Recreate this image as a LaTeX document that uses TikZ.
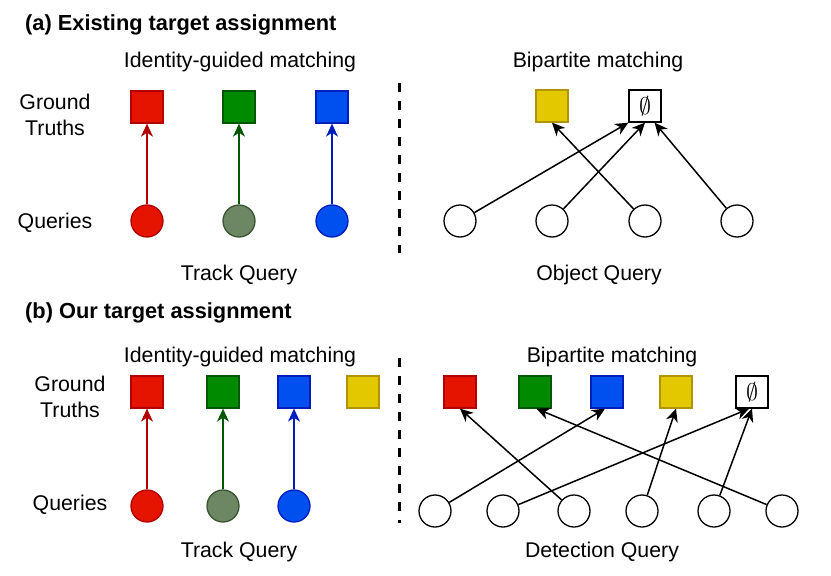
\documentclass[tikz,border=0pt]{standalone}
\usepackage{fontspec}
\setmainfont{Liberation Sans}
\usetikzlibrary{arrows.meta}
\definecolor{rfill}{HTML}{E51400}\definecolor{rline}{HTML}{B20000}
\definecolor{gfill}{HTML}{008A00}\definecolor{gline}{HTML}{005700}
\definecolor{bfill}{HTML}{0050EF}\definecolor{bline}{HTML}{001DBC}
\definecolor{yfill}{HTML}{E3C800}\definecolor{yline}{HTML}{B09500}
\definecolor{ofill}{HTML}{6D8764}\definecolor{oline}{HTML}{3A5431}
\newcommand{\emptymark}{\scalebox{2.4}{$\emptyset$}}
\tikzset{
  txt/.style={font=\fontsize{21.3}{26}\selectfont, inner sep=0pt},
  ttl/.style={font=\fontsize{21.8}{26}\selectfont\bfseries, inner sep=0pt, anchor=base west},
  sq/.style={draw, rectangle, minimum size=32pt, inner sep=0pt, line width=1.3pt},
  cq/.style={draw, circle, minimum size=32pt, inner sep=0pt, line width=1.3pt},
  arr/.style={line width=1.5pt, -{Stealth[length=13pt,width=12pt,inset=4pt]}},
  sep/.style={line width=3pt, dash pattern=on 9pt off 9pt},
}
\begin{document}
\begin{tikzpicture}[x=1pt,y=-1pt]
\useasboundingbox (0,0) rectangle (831,576);
% ---------- (a)
\node[ttl] (ta) at (25,30) {(a) Existing target assignment};
\node[txt, anchor=base] (ia) at (240,67) {Identity-guided matching};
\node[txt, anchor=base] (ba) at (598,67) {Bipartite matching};
\node[txt, align=center] (gta) at (55,115) {Ground\\Truths};
\node[txt, anchor=base] (qa) at (55,228) {Queries};
\node[txt, anchor=base] (tqa) at (239,280) {Track Query};
\node[txt, anchor=base] (oqa) at (599,280) {Object Query};

\node[sq, fill=rfill, draw=rline] (ar) at (147,107) {};
\node[sq, fill=gfill, draw=gline] (ag) at (239,107) {};
\node[sq, fill=bfill, draw=bline] (ab) at (332,107) {};
\node[cq, fill=rfill, draw=rline] (aqr) at (147,221) {};
\node[cq, fill=ofill, draw=oline] (aqg) at (239,221) {};
\node[cq, fill=bfill, draw=bline] (aqb) at (332,221) {};
\draw[arr, rline] (aqr) -- (ar);
\draw[arr, gline] (aqg) -- (ag);
\draw[arr, bline] (aqb) -- (ab);

\draw[sep] (399,83) -- (399,253);

\node[sq, fill=yfill, draw=yline] (ay) at (552,106) {};
\node[sq, fill=white] (ae) at (645,106) {\emptymark};
\node[cq] (ad1) at (460,221) {};
\node[cq] (ad2) at (552,221) {};
\node[cq] (ad3) at (645,221) {};
\node[cq] (ad4) at (737,221) {};
\draw[arr] (ad1) -- (ae.south west);
\draw[arr] (ad2) -- (ae.south);
\draw[arr] (ad3) -- (ay.south);
\draw[arr] (ad4) -- (ae.-60);

% ---------- (b)
\node[ttl] (tb) at (25,318) {(b) Our target assignment};
\node[txt, anchor=base] (ib) at (240,362) {Identity-guided matching};
\node[txt, anchor=base] (bb) at (612,362) {Bipartite matching};
\node[txt, align=center] (gtb) at (70,397) {Ground\\Truths};
\node[txt, anchor=base] (qb) at (70,510) {Queries};
\node[txt, anchor=base] (tqb) at (239,557) {Track Query};
\node[txt, anchor=base] (dqb) at (602,557) {Detection Query};

\node[sq, fill=rfill, draw=rline] (br) at (147,392) {};
\node[sq, fill=gfill, draw=gline] (bg) at (223,392) {};
\node[sq, fill=bfill, draw=bline] (bbl) at (294,392) {};
\node[sq, fill=yfill, draw=yline] (by) at (363,392) {};
\node[cq, fill=rfill, draw=rline] (bqr) at (147,506) {};
\node[cq, fill=ofill, draw=oline] (bqg) at (223,506) {};
\node[cq, fill=bfill, draw=bline] (bqb) at (294,506) {};
\draw[arr, rline] (bqr) -- (br);
\draw[arr, gline] (bqg) -- (bg);
\draw[arr, bline] (bqb) -- (bbl);

\draw[sep] (399,358) -- (399,523);

\node[sq, fill=rfill, draw=rline] (cr) at (460,392) {};
\node[sq, fill=gfill, draw=gline] (cg) at (535,392) {};
\node[sq, fill=bfill, draw=bline] (cb) at (607,392) {};
\node[sq, fill=yfill, draw=yline] (cy) at (676,392) {};
\node[sq, fill=white] (ce) at (752,392) {\emptymark};
\node[cq] (d1) at (435,511) {};
\node[cq] (d2) at (503,511) {};
\node[cq] (d3) at (574,511) {};
\node[cq] (d4) at (642,511) {};
\node[cq] (d5) at (714,511) {};
\node[cq] (d6) at (782,511) {};
\draw[arr] (d1) -- (cb.-97);
\draw[arr] (d2) -- (ce.-100);
\draw[arr] (d3) -- (cr.south);
\draw[arr] (d4) -- (cy.south);
\draw[arr] (d5) -- (ce.south);
\draw[arr] (d6) -- (cg.-85);
\end{tikzpicture}
\end{document}
